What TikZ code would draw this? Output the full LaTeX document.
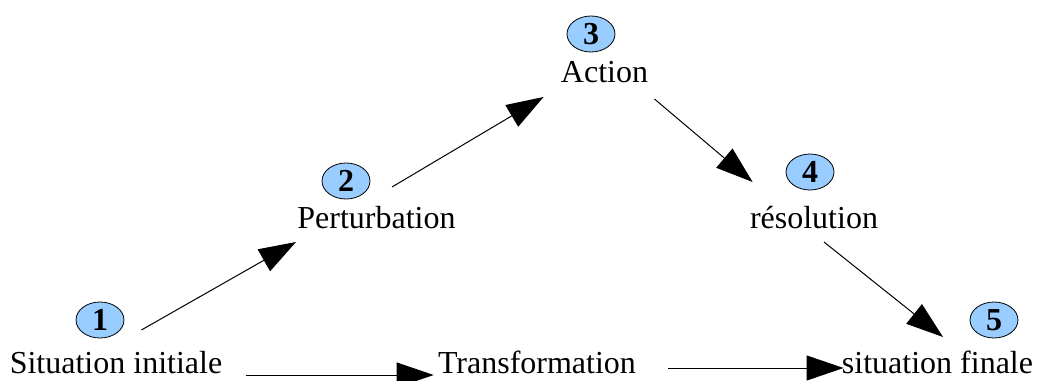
\documentclass[tikz,border=0pt]{standalone}
\usepackage{fontspec}
\setmainfont{Liberation Serif}
\usetikzlibrary{shapes.geometric,arrows.meta}
\definecolor{numblue}{RGB}{153,204,255}
\begin{document}
\begin{tikzpicture}[x=0.5pt, y=-0.5pt,
    etape/.style={anchor=base, inner sep=0pt, font=\fontsize{16}{19}\selectfont},
    numero/.style={ellipse, draw, line width=0.4pt, fill=numblue, inner sep=0pt, minimum width=24pt, minimum height=18pt, font=\fontsize{16}{19}\selectfont\bfseries},
    fleche/.style={-{Triangle[length=18.5pt, width=12.5pt]}, line width=0.5pt}]
    \useasboundingbox (0,0) rectangle (1038,380);
    % Stages of the narrative
    \node[etape] (init) at (116,373) {Situation initiale};
    \node[etape] (trans) at (537,373) {Transformation};
    \node[etape] (final) at (937.5,373) {situation finale};
    \node[etape] (pert) at (376.5,228) {Perturbation};
    \node[etape] (action) at (604.5,82) {Action};
    \node[etape] (reso) at (814,228) {résolution};
    % Numbers
    \node[numero] (n1) at (100,320) {1};
    \node[numero] (n2) at (346,181) {2};
    \node[numero] (n3) at (591,34) {3};
    \node[numero] (n4) at (810,172) {4};
    \node[numero] (n5) at (994,320) {5};
    % Arrows
    \draw[fleche] ([shift={(23,2)}]init.base east) -- ([shift={(-4,2)}]trans.base west);
    \draw[fleche] ([shift={(32,-5)}]trans.base east) -- ([shift={(2,-5)}]final.base west);
    \draw[fleche] ([shift={(132,-43)}]init.base west) -- ([shift={(-1,14)}]pert.base west);
    \draw[fleche] ([shift={(15.5,-41)}]pert.base) -- ([shift={(-17,15)}]action.base west);
    \draw[fleche] ([shift={(6,17)}]action.base east) -- ([shift={(3,-46)}]reso.base west);
    \draw[fleche] ([shift={(10,14)}]reso.base) -- ([shift={(5.5,-36)}]final.base);
\end{tikzpicture}
\end{document}
